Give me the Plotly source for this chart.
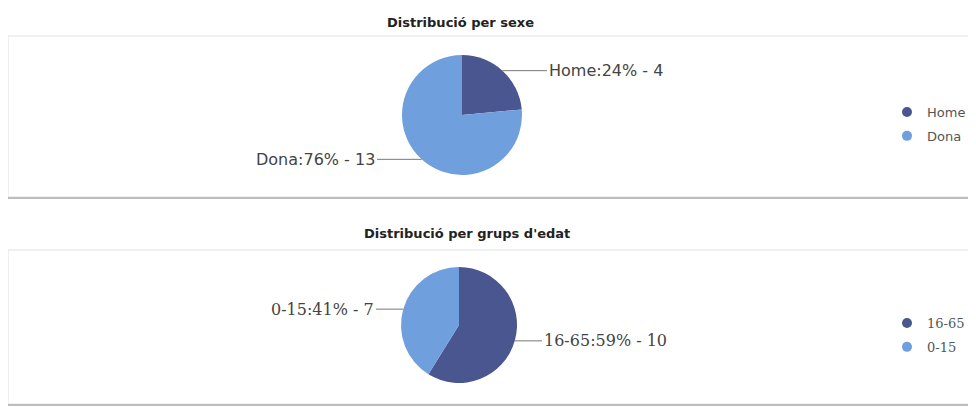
import plotly.graph_objects as go
import math

# page body has an 8px default margin; the figure is sized to fill the rest
OX, OY = 8, 8
W, H = 976 - OX, 409 - OY

# ---- data ----
sex_labels = ["Home", "Dona"]
sex_values = [4, 13]
age_labels = ["16-65", "0-15"]
age_values = [10, 7]
titles = ["Distribució per sexe", "Distribució per grups d'edat"]

DARK = "#4a568f"
LIGHT = "#6f9fdc"
colors = [DARK, LIGHT]

# layout geometry (screen pixels)
charts = [
    dict(labels=sex_labels, values=sex_values, cx=462, cy=115, r=60,
         font="DejaVu Sans", fsize=16, title_x=460, title_y=22,
         legend_x=887, legend_y=97, panel=(36, 197), legend="legend"),
    dict(labels=age_labels, values=age_values, cx=459, cy=325, r=58,
         font="DejaVu Serif", fsize=16, title_x=467, title_y=233,
         legend_x=887, legend_y=308, panel=(250, 404), legend="legend2"),
]

def px(x):
    return (x - OX) / W

def py(y):
    return 1 - (y - OY) / H

fig = go.Figure()
annotations = []
shapes = []

for i, c in enumerate(charts):
    cx, cy, r = c["cx"], c["cy"], c["r"]
    fig.add_trace(go.Pie(
        labels=c["labels"], values=c["values"], sort=False,
        direction="clockwise", rotation=0,
        marker=dict(colors=colors, line=dict(width=0)),
        textinfo="none", hoverinfo="label+value+percent", showlegend=False,
        domain=dict(x=[px(cx - r), px(cx + r)], y=[py(cy + r), py(cy - r)]),
    ))
    # legend entries with circle markers
    for lab, col in zip(c["labels"], colors):
        fig.add_trace(go.Scatter(
            x=[None], y=[None], mode="markers", name=lab,
            marker=dict(color=col, size=10, symbol="circle"),
            legend=c["legend"], legendgroup=f"{i}-{lab}", showlegend=True,
        ))
    # outside labels with leader lines, computed from the data
    total = sum(c["values"])
    cum = 0
    for lab, v in zip(c["labels"], c["values"]):
        mid = (cum + v / 2) / total
        cum += v
        th = 2 * math.pi * mid
        ex = cx + r * math.sin(th)
        ey = cy - r * math.cos(th)
        side = 1 if math.sin(th) >= 0 else -1
        tail = cx + side * (r + 25)
        pct = round(100 * v / total)
        annotations.append(dict(
            x=px(ex), y=py(ey), xref="paper", yref="paper",
            ax=tail - ex, ay=0, axref="pixel", ayref="pixel",
            text=f"{lab}:{pct}% - {v}", showarrow=True, arrowhead=0,
            arrowwidth=1, arrowcolor="#777777", standoff=0,
            xanchor="left" if side > 0 else "right", yanchor="middle",
            font=dict(family=c["font"], size=c["fsize"], color="#444444"),
        ))
    # title
    annotations.append(dict(
        x=px(c["title_x"]), y=py(c["title_y"]), xref="paper", yref="paper",
        text=f"<b>{titles[i]}</b>", showarrow=False,
        xanchor="center", yanchor="middle",
        font=dict(family="DejaVu Sans", size=13, color="#222222"),
    ))
    # panel frame
    top, bot = c["panel"]
    shapes.append(dict(type="rect", xref="paper", yref="paper",
                       x0=px(8), x1=px(990), y0=py(bot), y1=py(top),
                       line=dict(color="#e2e2e2", width=1)))
    shapes.append(dict(type="line", xref="paper", yref="paper",
                       x0=px(8), x1=px(990), y0=py(bot + 1), y1=py(bot + 1),
                       line=dict(color="#bdbdbd", width=2)))

fig.update_layout(
    width=W, height=H, margin=dict(l=0, r=0, t=0, b=0),
    paper_bgcolor="white", plot_bgcolor="white",
    xaxis=dict(visible=False), yaxis=dict(visible=False),
    annotations=annotations, shapes=shapes,
    legend=dict(x=px(charts[0]["legend_x"]), y=py(charts[0]["legend_y"]),
                xanchor="left", yanchor="top", tracegroupgap=4,
                font=dict(family="DejaVu Sans", size=13, color="#555555"),
                bgcolor="rgba(0,0,0,0)", itemclick=False),
    legend2=dict(x=px(charts[1]["legend_x"]), y=py(charts[1]["legend_y"]),
                 xanchor="left", yanchor="top", tracegroupgap=4,
                 font=dict(family="DejaVu Serif", size=13, color="#555555"),
                 bgcolor="rgba(0,0,0,0)", itemclick=False),
)

fig.write_html("out.html")
